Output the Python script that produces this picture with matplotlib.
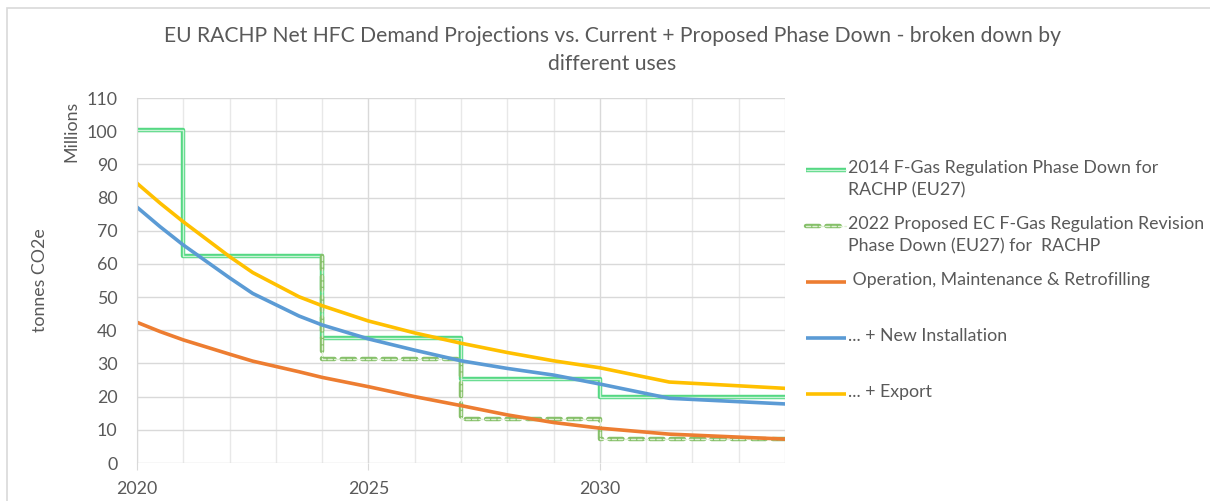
import numpy as np
import matplotlib.pyplot as plt
from matplotlib.patches import Rectangle
from matplotlib.lines import Line2D

plt.rcParams['font.family'] = ['Lato', 'DejaVu Sans']

# projection years (irregular, follow the kinks in the source lines)
years = [2020, 2020.5, 2021, 2022, 2022.5, 2023.5, 2024, 2025, 2026, 2027,
         2028, 2029, 2030, 2031.5, 2034]
export = [84.3, 78.3, 72.7, 62.2, 57.4, 50.1, 47.4, 42.8, 39.2, 36.1,
          33.3, 30.8, 28.7, 24.4, 22.5]
new_inst = [77.1, 71.2, 65.7, 55.8, 51.1, 44.3, 41.6, 37.4, 34.0, 30.8,
            28.5, 26.5, 23.8, 19.5, 17.8]
operation = [42.4, 39.6, 37.1, 32.8, 30.7, 27.5, 25.8, 23.0, 20.0, 17.3,
             14.5, 12.2, 10.5, 8.7, 7.2]

# phase down steps (value holds from year until next year)
pd2014_years = [2020, 2021, 2024, 2027, 2030, 2034]
pd2014_vals = [100.5, 62.5, 37.7, 25.3, 20.0]
prop_years = [2024, 2027, 2030, 2034]
prop_vals = [31.3, 13.3, 7.1]
prop_from = 62.5  # level the proposal drops from in 2024

labels = [
    "2014 F-Gas Regulation Phase Down for\nRACHP (EU27)",
    "2022 Proposed EC F-Gas Regulation Revision\nPhase Down (EU27) for  RACHP",
    " Operation, Maintenance & Retrofilling",
    "... + New Installation",
    "... + Export",
]

GREY = '#595959'
FS = 12.8


def steps(edges, vals):
    return np.repeat(edges, 2)[1:-1], np.repeat(vals, 2)


fig = plt.figure(figsize=(12.1, 5.01), dpi=100)
ax = fig.add_axes([137 / 1210, 1 - 463 / 501, 648 / 1210, 365 / 501])

# chart area border
fig.patches.append(Rectangle((7 / 1210, -0.1), 1.2, 1 - 8 / 501 + 0.1,
                             transform=fig.transFigure, fill=False,
                             edgecolor='#d9d9d9', lw=1.2))

styles = [
    dict(color='#55d883', inner='#c9f3d6', ls='-'),
    dict(color='#86c06a', inner='#dff0d4', ls=(0, (3.0, 1.6))),
    dict(color='#ed7d31', lw=2.6),
    dict(color='#5b9bd5', lw=2.6),
    dict(color='#ffc000', lw=2.6),
]


def double_line(target, x, y, color, inner, ls='-', **kw):
    for c, w in [(color, 3.2), (inner, 1.0)]:
        ln = Line2D(x, y, color=c, lw=w, ls=ls, solid_capstyle='butt',
                    dash_capstyle='round', **kw)
        target.add_line(ln) if target is ax else target.add_artist(ln)


sx, sy = steps(pd2014_years, pd2014_vals)
double_line(ax, sx, sy, '#55d883', '#c9f3d6')

px, py = steps(prop_years, prop_vals)
px = np.concatenate([[prop_years[0]], px])
py = np.concatenate([[prop_from], py])
double_line(ax, px, py, '#86c06a', '#dff0d4', ls=(0, (3.0, 1.6)))

ax.plot(years, operation, color='#ed7d31', lw=2.6)
ax.plot(years, new_inst, color='#5b9bd5', lw=2.6)
ax.plot(years, export, color='#ffc000', lw=2.6)

ax.set_xlim(2020, 2034)
ax.set_ylim(0, 110)
ax.set_yticks(range(0, 111, 10))
ax.set_xticks([2020, 2025, 2030])
ax.set_xticks(range(2020, 2035), minor=True)
ax.grid(True, which='major', color='#d9d9d9', lw=1.0)
ax.grid(True, which='minor', axis='x', color='#e8e8e8', lw=1.0)
ax.set_axisbelow(True)
for s in ['top', 'right', 'bottom']:
    ax.spines[s].set_visible(False)
ax.spines['left'].set_color('#d9d9d9')
ax.tick_params(axis='x', which='major', length=5, color='#d9d9d9',
               labelsize=FS, labelcolor=GREY, pad=8)
ax.tick_params(axis='x', which='minor', length=0)
ax.tick_params(axis='y', length=0, labelsize=FS, labelcolor=GREY, pad=14)

fig.text(71 / 1210, 1 - 131 / 501, 'Millions', rotation=90, ha='center',
         va='center', fontsize=FS, color=GREY)
fig.text(40 / 1210, 1 - 280 / 501, 'tonnes CO2e', rotation=90, ha='center',
         va='center', fontsize=FS, color=GREY)

fig.text(612 / 1210, 1 - 50 / 501,
         'EU RACHP Net HFC Demand Projections vs. Current + Proposed Phase Down - broken down by\ndifferent uses',
         ha='center', va='center', fontsize=15.2, color=GREY, linespacing=1.45)

# legend: equal slots, handle level with the first text line
for i, (lab, st) in enumerate(zip(labels, styles)):
    yy = 1 - (170 + 56 * i) / 501
    hx = [806 / 1210, 846 / 1210]
    if 'inner' in st:
        double_line(fig, hx, [yy, yy], st['color'], st['inner'], ls=st['ls'],
                    transform=fig.transFigure)
    else:
        fig.add_artist(Line2D(hx, [yy, yy], color=st['color'], lw=st['lw'],
                              solid_capstyle='butt', transform=fig.transFigure))
    fig.text(848 / 1210, yy + 10 / 501, lab, ha='left', va='top',
             fontsize=FS, color=GREY, linespacing=1.45)

fig.savefig('out.png', dpi=100)
